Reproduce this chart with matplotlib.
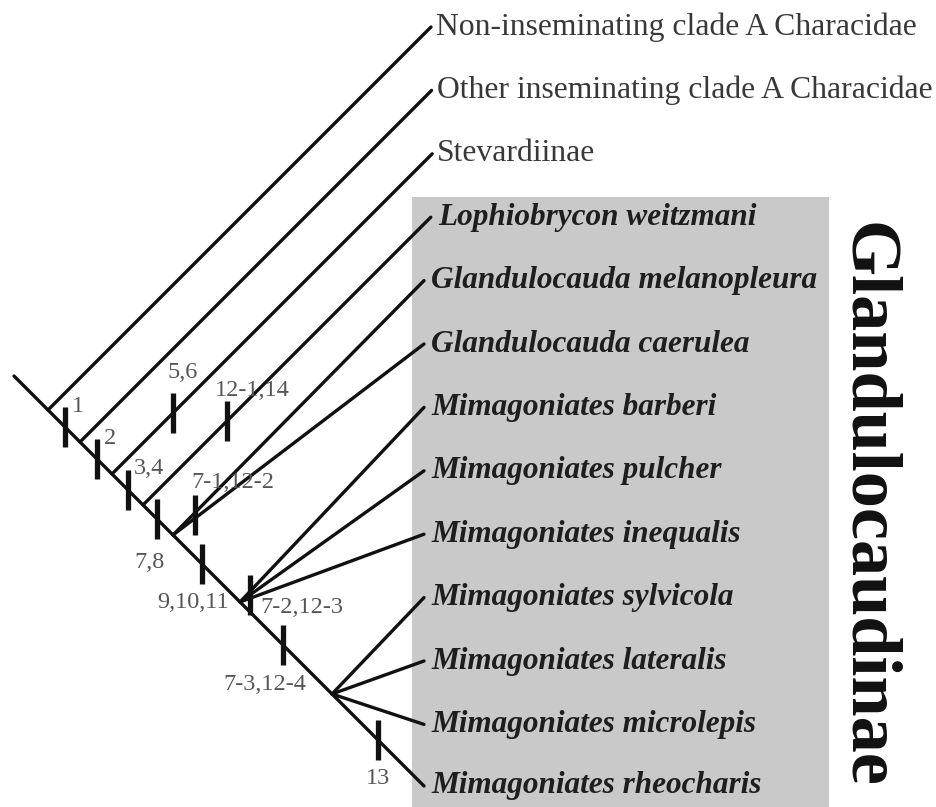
import matplotlib
matplotlib.use("Agg")
import matplotlib.pyplot as plt
from matplotlib.patches import Rectangle

# ---------------- data ----------------
taxa = ["Non-inseminating clade A Characidae",
        "Other inseminating clade A Characidae",
        "Stevardiinae",
        "Lophiobrycon weitzmani",
        "Glandulocauda melanopleura",
        "Glandulocauda caerulea",
        "Mimagoniates barberi",
        "Mimagoniates pulcher",
        "Mimagoniates inequalis",
        "Mimagoniates sylvicola",
        "Mimagoniates lateralis",
        "Mimagoniates microlepis",
        "Mimagoniates rheocharis"]
ingroup = [False, False, False] + [True] * 10
group_name = "Glandulocaudinae"

# backbone nodes (distance along backbone) and the tips they subtend
node_dist = [48, 80, 112, 143, 173, 240, 332, 424]
node_tips = [[0], [1], [2], [3], [4, 5], [6, 7, 8], [9, 10, 11], [12]]

# character changes on the backbone
bb_char_dist = [65, 97, 128, 157, 202, 283, 378]
bb_char_labels = ["1", "2", "3,4", "7,8", "9,10,11", "7-3,12-4", "13"]

# character changes on branches: (node index, distance)
br_char_node = [2, 3, 4, 5]
br_char_dist = [173, 227, 195, 250]
br_char_labels = ["5,6", "12-1,14", "7-1,12-2", "7-2,12-3"]

# ---------------- layout ----------------
W, H = 936, 807
root_x, root_y = 14, 376
tip_y0, tip_dy = 27, 63.4
clade_tip_x = 424
box = (412, 197, 417, 640)

bb_lab_off = {"1": (7, -20, "left"), "2": (7, -21, "left"), "3,4": (6, -22, "left"),
              "7,8": (-7, 43, "center"), "9,10,11": (-9, 39, "center"),
              "7-3,12-4": (-18, 40, "center"), "13": (0, 38, "center")}
br_lab_off = {"5,6": (10, -40), "12-1,14": (25, -31), "7-1,12-2": (38, -33),
              "7-2,12-3": (52, 13)}

serif = ["Liberation Serif", "DejaVu Serif"]
line_kw = dict(color="#111111", lw=2.4, solid_capstyle="round", zorder=3)
tick_kw = dict(color="#111111", lw=3.8, solid_capstyle="butt", zorder=4)


def bb_y(x):
    return root_y + (x - root_x)


fig = plt.figure(figsize=(W / 100, H / 100), dpi=100)
ax = fig.add_axes([0, 0, 1, 1])
ax.set_xlim(0, W)
ax.set_ylim(H, 0)
ax.axis("off")

ax.add_patch(Rectangle((box[0], box[1]), box[2], box[3], facecolor="#c9c9c9",
                       edgecolor="none", zorder=1))

# backbone
end_x = node_dist[-1]
ax.plot([root_x, end_x], [root_y, bb_y(end_x)], **line_kw)

tip_xy = {}
for nd, tips in zip(node_dist, node_tips):
    ny = bb_y(nd)
    for t in tips:
        ty = tip_y0 + t * tip_dy
        if t == len(taxa) - 1:
            tip_xy[t] = (nd, ny)
            continue
        if len(tips) == 1:
            tx = nd + (ny - ty)
        else:
            tx = clade_tip_x
        ax.plot([nd, tx], [ny, ty], **line_kw)
        tip_xy[t] = (tx, ty)

for t, name in enumerate(taxa):
    tx, ty = tip_xy[t]
    if ingroup[t]:
        ax.text(tx + 7, ty, name, fontsize=22.5, family=serif, style="italic",
                weight="bold", color="#1e1e1e", ha="left", va="center", zorder=5)
    else:
        ax.text(tx + 5, ty, name, fontsize=22.8, family=serif, color="#383838",
                ha="left", va="center", zorder=5)

# backbone character ticks
for d, lab in zip(bb_char_dist, bb_char_labels):
    y = bb_y(d)
    ax.plot([d, d], [y - 20, y + 20], **tick_kw)
    ox, oy, ha = bb_lab_off[lab]
    ax.text(d + ox, y + oy, lab, fontsize=17.5, family=serif, color="#555555",
            ha=ha, va="center", zorder=5)

# branch character ticks
for ni, d, lab in zip(br_char_node, br_char_dist, br_char_labels):
    nd = node_dist[ni]
    ny = bb_y(nd)
    ys = []
    for t in node_tips[ni]:
        tx, ty = tip_xy[t]
        ys.append(ny + (ty - ny) * (d - nd) / (tx - nd))
    yc = sum(ys) / len(ys)
    ax.plot([d, d], [yc - 20, yc + 20], **tick_kw)
    ox, oy = br_lab_off[lab]
    ax.text(d + ox, yc + oy, lab, fontsize=17.5, family=serif, color="#555555",
            ha="center", va="center", zorder=5)

ax.text(866, 505, group_name, rotation=-90, fontsize=52, family=serif,
        weight="bold", color="#111111", ha="center", va="center", zorder=5)

fig.savefig("out.png", dpi=100)
